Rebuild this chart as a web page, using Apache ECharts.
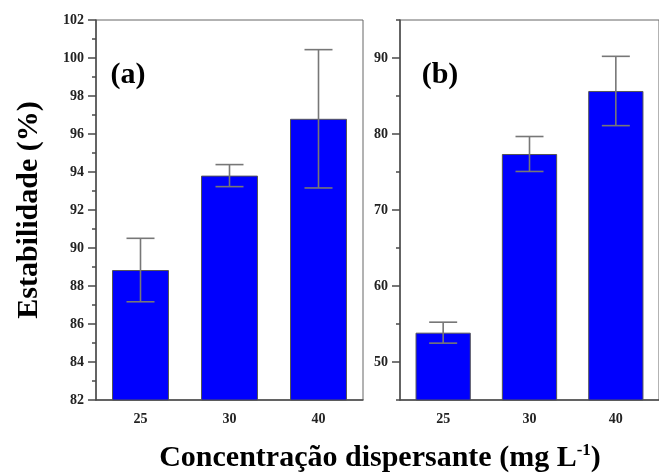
<!DOCTYPE html>
<html><head><meta charset="utf-8">
<script src="https://cdn.jsdelivr.net/npm/echarts@6/dist/echarts.min.js"></script>
<style>html,body{margin:0;padding:0;background:#fff}#c{width:659px;height:473px}</style>
</head><body><div id="c"></div>
<script>
// ---- data ----
const categories = ['25', '30', '40'];
const stabilityA = [88.84, 93.81, 96.80];
const errorA = [1.67, 0.58, 3.64];
const stabilityB = [53.86, 77.37, 85.66];
const errorB = [1.38, 2.30, 4.56];
const yTicksA = [82, 84, 86, 88, 90, 92, 94, 96, 98, 100, 102];
const yTicksB = [50, 60, 70, 80, 90];
const yMinorB = [45, 55, 65, 75, 85, 95];

const FONT = 'Liberation Serif, Times New Roman, serif';
const AX = '#4a4a4a';

function errData(vals, errs) {
  return vals.map((v, i) => [i, v - errs[i], v + errs[i]]);
}
function errRender(params, api) {
  const x = api.value(0), lo = api.value(1), hi = api.value(2);
  const pHi = api.coord([x, hi]), pLo = api.coord([x, lo]);
  const w = 14;
  const st = { stroke: '#777', lineWidth: 1.6 };
  return { type: 'group', children: [
    { type: 'line', shape: { x1: pHi[0], y1: pHi[1], x2: pLo[0], y2: pLo[1] }, style: st },
    { type: 'line', shape: { x1: pHi[0] - w, y1: pHi[1], x2: pHi[0] + w, y2: pHi[1] }, style: st },
    { type: 'line', shape: { x1: pLo[0] - w, y1: pLo[1], x2: pLo[0] + w, y2: pLo[1] }, style: st }
  ]};
}
const labelStyle = { fontFamily: FONT, fontWeight: 'bold', fontSize: 14, color: '#222' };

function xAxisFor(gi) {
  return {
    type: 'category', gridIndex: gi, data: categories,
    axisLine: { lineStyle: { color: AX, width: 1.5 } },
    axisTick: { alignWithLabel: true, length: 6, lineStyle: { color: AX, width: 1.5 } },
    axisLabel: Object.assign({ margin: 12 }, labelStyle),
    splitLine: { show: false }
  };
}

const chart = echarts.init(document.getElementById('c'), null, { renderer: 'canvas' });
chart.setOption({
  animation: false,
  backgroundColor: '#fff',
  grid: [
    { left: 96, top: 20, width: 267, height: 380, show: true, borderColor: '#666', borderWidth: 1 },
    { left: 400, top: 20, width: 266, height: 380, show: true, borderColor: '#666', borderWidth: 1 }
  ],
  xAxis: [xAxisFor(0), xAxisFor(1)],
  yAxis: [
    {
      type: 'value', gridIndex: 0, min: yTicksA[0], max: yTicksA[yTicksA.length - 1], interval: 2,
      axisLine: { show: true, lineStyle: { color: AX, width: 1.5 } },
      axisTick: { show: true, length: 8, lineStyle: { color: AX, width: 1.5 } },
      minorTick: { show: true, splitNumber: 2, length: 4, lineStyle: { color: AX, width: 1.5 } },
      axisLabel: Object.assign({ margin: 12 }, labelStyle),
      splitLine: { show: false }
    },
    {
      type: 'value', gridIndex: 1, min: 45, max: 95, interval: 5, position: 'left',
      axisLine: { show: true, lineStyle: { color: AX, width: 1.5 } },
      axisTick: { show: true, length: 8, customValues: yTicksB, lineStyle: { color: AX, width: 1.5 } },
      axisLabel: Object.assign({ margin: 12, customValues: yTicksB }, labelStyle),
      splitLine: { show: false }
    },
    {
      type: 'value', gridIndex: 1, min: 45, max: 95, interval: 5, position: 'left', offset: 0,
      axisLine: { show: false },
      axisTick: { show: true, length: 4, customValues: yMinorB, lineStyle: { color: AX, width: 1.5 } },
      axisLabel: { show: false },
      splitLine: { show: false }
    }
  ],
  series: [
    { type: 'bar', xAxisIndex: 0, yAxisIndex: 0, data: stabilityA, barWidth: '64%',
      itemStyle: { color: '#0000fe', borderColor: '#555', borderWidth: 1 } },
    { type: 'custom', xAxisIndex: 0, yAxisIndex: 0, data: errData(stabilityA, errorA),
      renderItem: errRender, z: 5 },
    { type: 'bar', xAxisIndex: 1, yAxisIndex: 1, data: stabilityB, barWidth: '64%',
      itemStyle: { color: '#0000fe', borderColor: '#555', borderWidth: 1 } },
    { type: 'custom', xAxisIndex: 1, yAxisIndex: 1, data: errData(stabilityB, errorB),
      renderItem: errRender, z: 5 }
  ],
  graphic: [
    { type: 'text', x: 29, y: 210, rotation: Math.PI / 2,
      style: { text: 'Estabilidade (%)', font: 'bold 30px ' + FONT, fill: '#000',
        textAlign: 'center', textVerticalAlign: 'middle' } },
    { type: 'text', x: 380, y: 458,
      style: { text: '{n|Concentração dispersante (mg L}{s|-1}{n|)}', fill: '#000',
        textAlign: 'center', textVerticalAlign: 'middle',
        rich: {
          n: { fontFamily: FONT, fontWeight: 'bold', fontSize: 30, lineHeight: 32 },
          s: { fontFamily: FONT, fontWeight: 'bold', fontSize: 17, lineHeight: 32, verticalAlign: 'top' }
        } } },
    { type: 'text', x: 128, y: 75,
      style: { text: '(a)', font: 'bold 30px ' + FONT, fill: '#000', textAlign: 'center', textVerticalAlign: 'middle' } },
    { type: 'text', x: 440, y: 75,
      style: { text: '(b)', font: 'bold 30px ' + FONT, fill: '#000', textAlign: 'center', textVerticalAlign: 'middle' } }
  ]
});
</script>
</body></html>
